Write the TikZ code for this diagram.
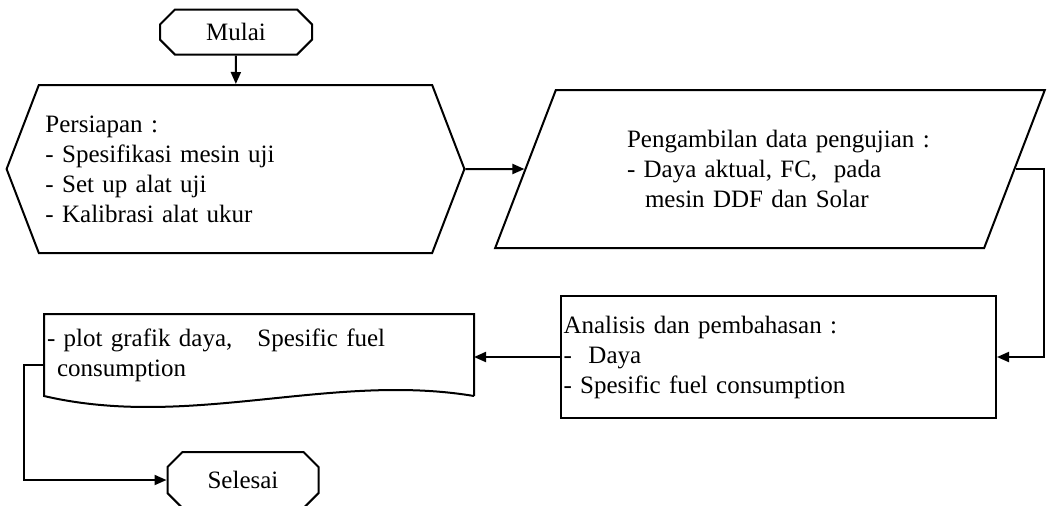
\documentclass[tikz,border=0pt]{standalone}
\usepackage{fontspec}
\setmainfont{Liberation Serif}
\usetikzlibrary{shapes.misc,shapes.symbols,shapes.geometric,arrows.meta}

\begin{document}
\begin{tikzpicture}[x=0.5pt,y=-0.5pt,line width=1pt,
    font=\fontsize{12.5}{15}\selectfont,
    terminal/.style={draw,chamfered rectangle,chamfered rectangle xsep=6pt,
      minimum width=76pt,minimum height=22.5pt,inner sep=0pt},
    prep/.style={draw,signal,signal to=west and east,signal pointer angle=138,
      minimum width=227.5pt,minimum height=84pt,text width=190pt,align=left},
    io/.style={draw,trapezium,trapezium left angle=65,trapezium right angle=115,
      trapezium stretches=true,minimum width=275pt,minimum height=79pt,
      text width=143pt,align=left},
    process/.style={draw,rectangle,minimum width=217.5pt,minimum height=61pt,
      text width=215pt,inner xsep=1pt,align=left},
    doc/.style={rectangle,minimum width=214pt,minimum height=40pt,
      text width=212pt,inner xsep=1pt,align=left},
    flow/.style={-{Triangle[length=6pt,width=5pt]}}]
  \useasboundingbox (0,0) rectangle (1050,505);

  \node[terminal] (mulai) at (236,32) {Mulai};
  \node[prep] (persiapan) at (235.5,169)
    {Persiapan :\\- Spesifikasi mesin uji\\- Set up alat uji\\- Kalibrasi alat ukur};
  \node[io] (data) at (770,169)
    {\makebox[143pt][l]{Pengambilan data pengujian :}\\- Daya aktual, FC,\ \ pada\\\hspace{9pt}mesin DDF dan Solar};
  \node[process] (analisis) at (778.5,357)
    {Analisis dan pembahasan :\\-\ \ Daya\\- Spesific fuel consumption};
  \node[doc] (hasil) at (259,355)
    {- plot grafik daya,\ \ \ Spesific fuel\\\hspace*{5pt}consumption};
  \node[terminal,minimum height=28pt,minimum width=75.5pt] (selesai) at (243,480) {Selesai};

  % document outline with wavy bottom
  \draw (hasil.south east) -- (hasil.north east) -- (hasil.north west) -- (hasil.south west)
    .. controls (190,430) and (330,372) .. (hasil.south east);

  \draw[flow] (mulai) -- (persiapan);
  \draw[flow] (persiapan.east) -- (data.west);
  \draw[flow] (data.east) -- ++(28,0) |- (analisis.east);
  \draw[flow] (analisis.west) -- (analisis.west -| hasil.east);
  \draw[flow] ([yshift=-5pt]hasil.west) -- ++(-20,0) |- (selesai.west);
\end{tikzpicture}
\end{document}
